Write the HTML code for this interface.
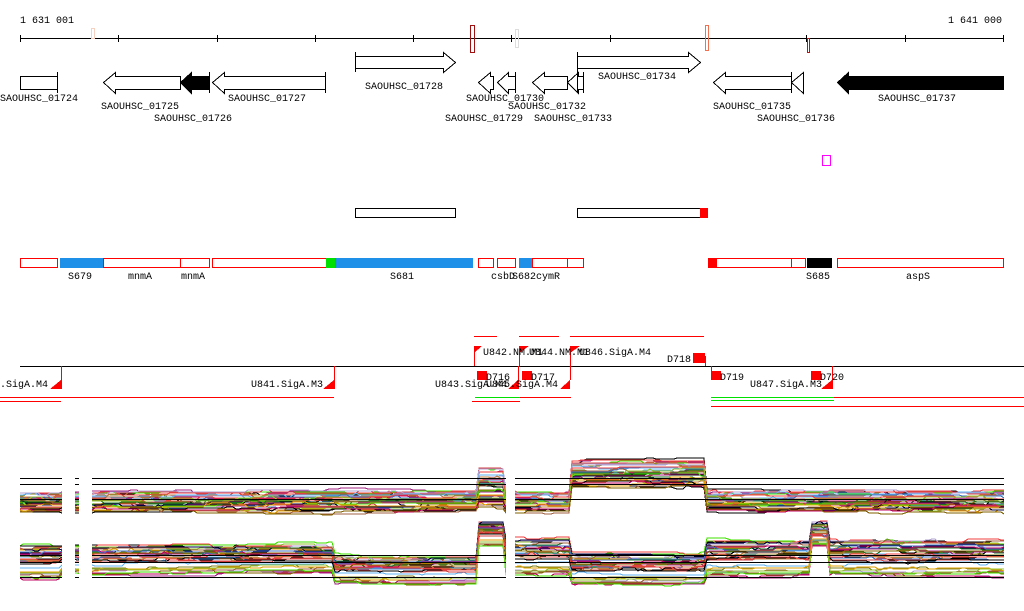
<!DOCTYPE html>
<html><head><meta charset="utf-8"><style>
html,body{margin:0;padding:0;background:#fff;}
svg{display:block;}
text{font-family:"Liberation Mono","DejaVu Sans Mono",monospace;font-size:10px;fill:#000;}
</style></head><body>
<svg id="s" width="1024" height="611" viewBox="0 0 1024 611" xmlns="http://www.w3.org/2000/svg" shape-rendering="crispEdges">
<text x="20" y="23">1 631 001</text>
<text x="1002" y="23" text-anchor="end">1 641 000</text>
<line x1="20" y1="38.5" x2="1004" y2="38.5" stroke="#000"/>
<g stroke="#000">
<line x1="20.5" y1="35" x2="20.5" y2="42"/><line x1="118.5" y1="35" x2="118.5" y2="42"/><line x1="217.5" y1="35" x2="217.5" y2="42"/><line x1="315.5" y1="35" x2="315.5" y2="42"/><line x1="413.5" y1="35" x2="413.5" y2="42"/><line x1="511.5" y1="35" x2="511.5" y2="42"/><line x1="610.5" y1="35" x2="610.5" y2="42"/><line x1="708.5" y1="35" x2="708.5" y2="42"/><line x1="806.5" y1="35" x2="806.5" y2="42"/><line x1="905.5" y1="35" x2="905.5" y2="42"/><line x1="1003.5" y1="35" x2="1003.5" y2="42"/>
</g>
<rect x="91.5" y="28.5" width="3" height="10" fill="none" stroke="#f8d0c0"/>
<rect x="470.5" y="25.5" width="4" height="27" fill="none" stroke="#a01010"/>
<rect x="515.5" y="29.5" width="3" height="18" fill="none" stroke="#ddd"/>
<rect x="705.5" y="25.5" width="3" height="25" fill="none" stroke="#f07050"/>
<rect x="807.5" y="38.5" width="2" height="14" fill="none" stroke="#c01010"/>
<g stroke="#000" fill="#fff">
<rect x="20.5" y="76.5" width="37" height="13"/><line x1="57.5" y1="72" x2="57.5" y2="93"/>
<polygon points="103.5,82.5 115.5,72.5 115.5,76.5 180.5,76.5 180.5,89.5 115.5,89.5 115.5,93.5"/>
<polygon points="180.5,82.5 191.5,72.5 191.5,76.5 209.5,76.5 209.5,89.5 191.5,89.5 191.5,93.5" fill="#000"/>
<line x1="209.5" y1="72" x2="209.5" y2="93"/>
<polygon points="212.5,82.5 224.5,72.5 224.5,76.5 325.5,76.5 325.5,89.5 224.5,89.5 224.5,93.5"/><line x1="325.5" y1="72" x2="325.5" y2="93"/>
<polygon points="455.5,62.5 443.5,52.5 443.5,56.5 355.5,56.5 355.5,68.5 443.5,68.5 443.5,72.5"/><line x1="355.5" y1="52" x2="355.5" y2="72"/>
<polygon points="478.5,82.5 490.5,72.5 490.5,76.5 493.5,76.5 493.5,89.5 490.5,89.5 490.5,93.5"/>
<polygon points="497.5,82.5 508.5,72.5 508.5,76.5 515.5,76.5 515.5,89.5 508.5,89.5 508.5,93.5"/><line x1="515.5" y1="72" x2="515.5" y2="93"/>
<polygon points="532.5,82.5 544.5,72.5 544.5,76.5 567.5,76.5 567.5,89.5 544.5,89.5 544.5,93.5"/>
<polygon points="567.5,82.5 578.5,72.5 578.5,76.5 583.5,76.5 583.5,89.5 578.5,89.5 578.5,93.5"/><line x1="583.5" y1="72" x2="583.5" y2="93"/>
<polygon points="700.5,62.5 688.5,52.5 688.5,56.5 577.5,56.5 577.5,68.5 688.5,68.5 688.5,72.5"/><line x1="577.5" y1="52" x2="577.5" y2="93"/>
<polygon points="713.5,82.5 725.5,72.5 725.5,76.5 791.5,76.5 791.5,89.5 725.5,89.5 725.5,93.5"/>
<polygon points="791.5,82.5 803.5,72.5 803.5,93.5"/><line x1="791.5" y1="72" x2="791.5" y2="93"/>
<polygon points="837.5,82.5 848.5,72.5 848.5,76.5 1003.5,76.5 1003.5,89.5 848.5,89.5 848.5,93.5" fill="#000"/>
</g>
<text x="0" y="101">SAOUHSC_01724</text>
<text x="101" y="109">SAOUHSC_01725</text>
<text x="154" y="121">SAOUHSC_01726</text>
<text x="228" y="101">SAOUHSC_01727</text>
<text x="365" y="89">SAOUHSC_01728</text>
<text x="466" y="101">SAOUHSC_01730</text>
<text x="445" y="121">SAOUHSC_01729</text>
<text x="508" y="109">SAOUHSC_01732</text>
<text x="534" y="121">SAOUHSC_01733</text>
<text x="598" y="79">SAOUHSC_01734</text>
<text x="713" y="109">SAOUHSC_01735</text>
<text x="757" y="121">SAOUHSC_01736</text>
<text x="878" y="101">SAOUHSC_01737</text>
<rect x="822.5" y="155.5" width="8" height="10" fill="none" stroke="#f0f"/>
<rect x="355.5" y="208.5" width="100" height="9" fill="none" stroke="#000"/>
<rect x="577.5" y="208.5" width="123" height="9" fill="none" stroke="#000"/>
<rect x="700" y="208" width="8" height="10" fill="#f00"/>
<g stroke="#f00" fill="none">
<rect x="20.5" y="258.5" width="37" height="9"/>
<rect x="103.5" y="258.5" width="77" height="9"/>
<rect x="180.5" y="258.5" width="29" height="9"/>
<rect x="212.5" y="258.5" width="114" height="9"/>
<rect x="478.5" y="258.5" width="15" height="9"/>
<rect x="497.5" y="258.5" width="18" height="9"/>
<rect x="532.5" y="258.5" width="35" height="9"/>
<rect x="567.5" y="258.5" width="16" height="9"/>
<rect x="716.5" y="258.5" width="75" height="9"/>
<rect x="791.5" y="258.5" width="14" height="9"/>
<rect x="837.5" y="258.5" width="166" height="9"/>
</g>
<rect x="60" y="258" width="43" height="10" fill="#1e90e8"/>
<rect x="326" y="258" width="9" height="10" fill="#00e000"/>
<rect x="335" y="258" width="138" height="10" fill="#1e90e8"/>
<rect x="519" y="258" width="13" height="10" fill="#1e90e8"/>
<rect x="708" y="258" width="8" height="10" fill="#f00"/>
<rect x="807" y="258" width="25" height="10" fill="#000"/>
<text x="68" y="279">S679</text><text x="128" y="279">mnmA</text><text x="181" y="279">mnmA</text>
<text x="390" y="279">S681</text><text x="491" y="279">csbD</text><text x="512" y="279">S682</text><text x="536" y="279">cymR</text>
<text x="806" y="279">S685</text><text x="906" y="279">aspS</text>
<line x1="20" y1="366.5" x2="1024" y2="366.5" stroke="#000"/>
<g stroke="#f00">
<line x1="474" y1="336.5" x2="497" y2="336.5"/><line x1="519" y1="336.5" x2="559" y2="336.5"/><line x1="570" y1="336.5" x2="704" y2="336.5"/>
<line x1="474.5" y1="346" x2="474.5" y2="366"/><line x1="519.5" y1="346" x2="519.5" y2="366"/><line x1="570.5" y1="346" x2="570.5" y2="380"/>
<line x1="61.5" y1="366" x2="61.5" y2="389"/><line x1="334.5" y1="366" x2="334.5" y2="389"/>
<line x1="518.5" y1="366" x2="518.5" y2="389"/><line x1="832.5" y1="366" x2="832.5" y2="389"/>
<line x1="0" y1="397.5" x2="334" y2="397.5"/><line x1="0" y1="401.5" x2="61" y2="401.5"/>
<line x1="472" y1="401.5" x2="520" y2="401.5"/><line x1="520" y1="397.5" x2="571" y2="397.5"/>
<line x1="834" y1="397.5" x2="1024" y2="397.5"/><line x1="711" y1="406.5" x2="1024" y2="406.5"/>
<line x1="705.5" y1="356" x2="705.5" y2="366"/><line x1="711.5" y1="366" x2="711.5" y2="375"/>
</g>
<g stroke="#00e000"><line x1="475" y1="397.5" x2="520" y2="397.5"/><line x1="711" y1="397.5" x2="834" y2="397.5"/><line x1="711" y1="400.5" x2="834" y2="400.5"/></g>
<g fill="#f00">
<polygon points="474,346 482,346 474,353"/><polygon points="519,346 529,346 519,353"/><polygon points="570,346 580,346 570,353"/>
<polygon points="61,380 61,389 50,389"/><polygon points="334,380 334,389 323,389"/>
<polygon points="518,380 518,389 508,389"/><polygon points="570,380 570,389 560,389"/><polygon points="832,380 832,389 821,389"/>
<rect x="693" y="353" width="12" height="10"/>
<rect x="477" y="371" width="10" height="9"/><rect x="522" y="371" width="10" height="9"/>
<rect x="711" y="371" width="10" height="9"/><rect x="811" y="371" width="10" height="9"/>
</g>
<text x="483" y="355">U842.NM.M1</text><text x="529" y="355">U844.NM.M1</text><text x="579" y="355">U846.SigA.M4</text>
<text x="667" y="362">D718</text>
<text x="486" y="380">D716</text><text x="531" y="380">D717</text><text x="720" y="380">D719</text><text x="820" y="380">D720</text>
<text x="-6" y="387">D.SigA.M4</text><text x="251" y="387">U841.SigA.M3</text>
<text x="435" y="387">U843.SigA.M4</text><text x="486" y="387">U845.SigA.M4</text><text x="750" y="387">U847.SigA.M3</text>
<g id="expr"></g>
<g stroke="#000">
<line x1="20" y1="478.5" x2="1004" y2="478.5"/><line x1="20" y1="484.5" x2="1004" y2="484.5"/><line x1="20" y1="499.5" x2="1004" y2="499.5"/>
<line x1="20" y1="555.5" x2="1004" y2="555.5"/><line x1="20" y1="562.5" x2="1004" y2="562.5"/><line x1="20" y1="577.5" x2="1004" y2="577.5"/>
</g>
<g fill="#fff"><rect x="62" y="470" width="13" height="120"/><rect x="79" y="470" width="13" height="120"/><rect x="506" y="470" width="9" height="120"/></g>
</svg>
<script>
(function(){
var seed=7;function r(){seed=(seed*16807)%2147483647;return seed/2147483647;}
var cols=["#e06020","#808020","#a02080","#60b0f0","#40e000","#d04040","#b0a0d0","#000040","#c08040","#f08060","#207020","#a06040","#e0a000","#c00060","#4070c0","#806000","#f04040","#90c030"];
function top(x){if(x>=478&&x<505)return [470,508];if(x>=570&&x<705)return [462,488];return [493,512];}
function bot(x){if(x<62)return [546,580];if(x<333)return [546,575];if(x<478)return [557,585];if(x<506)return [523,546];if(x<570)return [540,576];if(x<705)return [555,585];if(x<810)return [541,578];if(x<830)return [523,548];return [541,578];}
var g=document.getElementById("expr"),ns="http://www.w3.org/2000/svg";
function draw(fn){for(var i=0;i<36;i++){var f=Math.pow(r(),1.3),n=0,p="";for(var x=20;x<=1004;x+=3){if(r()<0.15)n=n*0.7+(r()-0.5)*4;var b=fn(x);var y=b[0]+f*(b[1]-b[0])+n;p+=x+","+y.toFixed(0)+" ";}
var pl=document.createElementNS(ns,"polyline");pl.setAttribute("points",p);pl.setAttribute("fill","none");pl.setAttribute("stroke",i%9==0?"#000":cols[i%cols.length]);pl.setAttribute("stroke-width","1");g.appendChild(pl);}}
draw(top);draw(bot);
})();
</script>
</body></html>
